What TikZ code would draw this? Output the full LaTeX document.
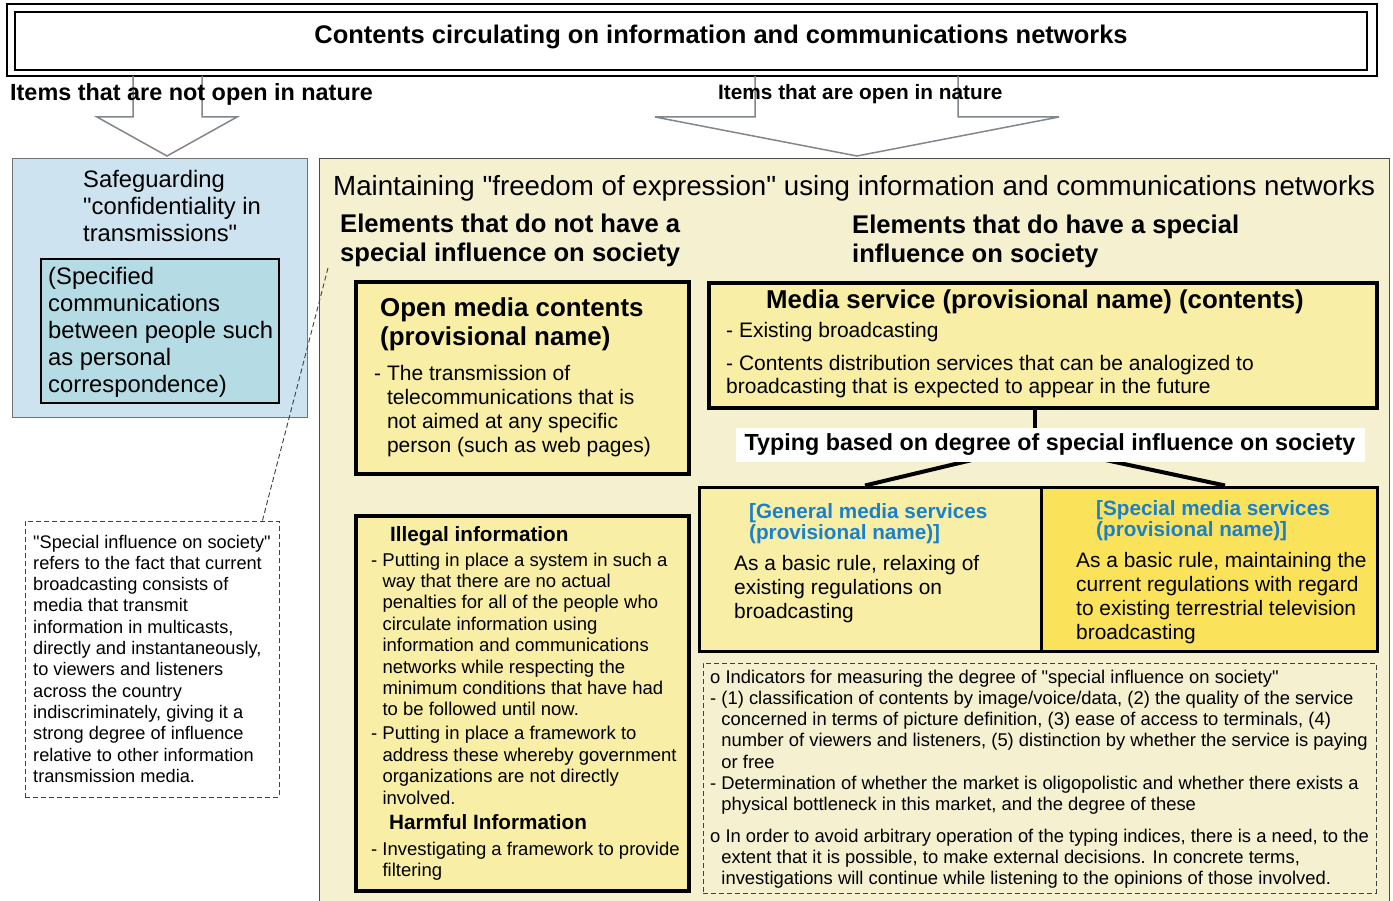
\documentclass[tikz,border=0pt]{standalone}
\usepackage{fontspec}
\setmainfont{Liberation Sans}[Ligatures=TeXOff]
\usetikzlibrary{positioning,fit}
\definecolor{paleblue}{HTML}{CDE3EF}
\definecolor{tealblue}{HTML}{B5DBE4}
\definecolor{beige}{HTML}{F4F0D0}
\definecolor{paleyellow}{HTML}{F8EEA6}
\definecolor{brightyellow}{HTML}{FAE35A}
\definecolor{titleblue}{HTML}{1A80CC}
\definecolor{arrowgray}{HTML}{80878D}
\newcommand{\fsz}[2]{\fontsize{#1}{#2}\selectfont}
\newcommand{\ind}{\hphantom{- }}
% base west of a multi-line node sits on its last line
\tikzset{
  lbl/.style={anchor=base west, inner sep=0pt, align=left},
  area/.style={inner sep=0pt},
  bigbox/.style={area, draw=black, line width=4.5pt, fill=paleyellow},
  hollow/.style={draw=arrowgray, line width=1.5pt, line join=miter},
  dashbox/.style={area, draw=black!75, line width=0.9pt, dash pattern=on 5pt off 3pt},
  branch/.style={line width=4pt},
}

\begin{document}
\begin{tikzpicture}[x=1pt,y=-1pt]
    \useasboundingbox (0,0) rectangle (1393,901);
    \fill[white] (0,0) rectangle (1393,901);

    % Title across the top
    \node(titleout)[area, draw, line width=1.2pt, fit={(7,4) (1377,76)}] {};
    \node(titlein)[area, draw, line width=2.6pt, fit={(15,12) (1367,70)}] {};
    \node(title)[font=\bfseries\fsz{25.5}{30}] at (721,37) {Contents circulating on information and communications networks};

    % Hollow arrows down from the title
    \draw[hollow] (133,76) -- (133,117) -- (97,117) -- (167,156) -- (237,117) -- (202,117) -- (202,76);
    \draw[hollow] (755,76) -- (755,117) -- (655,117) -- (857,156) -- (1059,117) -- (958,117) -- (958,76);
    \node(closed)[lbl, font=\bfseries\fsz{23.4}{28}] at (10,101) {Items that are not open in nature};
    \node(open)[lbl, font=\bfseries\fsz{20.8}{25}] at (718,100) {Items that are open in nature};

    % Confidentiality (left)
    \node(conf)[area, draw=black!55, line width=0.8pt, fill=paleblue, fit={(12,158) (307,417)}] {};
    \node(conftxt)[lbl, font=\fsz{23.8}{27}] at (83,242) {Safeguarding\\"confidentiality in\\transmissions"};
    \node(corresp)[area, draw, line width=2.6pt, fill=tealblue, fit={(41,259) (279,403)}] {};
    \node(corresptxt)[lbl, font=\fsz{23.8}{27}] at (48,392) {(Specified\\communications\\between people such\\as personal\\correspondence)};

    % Note on "special influence"
    \node(note)[dashbox, fit={(25,521) (279,797)}] {};
    \node(notetxt)[lbl, font=\fsz{18.2}{21.3}] at (33,782.3) {"Special influence on society"\\refers to the fact that current\\broadcasting consists of\\media that transmit\\information in multicasts,\\directly and instantaneously,\\to viewers and listeners\\across the country\\indiscriminately, giving it a\\strong degree of influence\\relative to other information\\transmission media.};

    % Freedom of expression (right)
    \node(freedom)[area, draw=black!70, line width=0.9pt, fill=beige, fit={(319,158) (1389,915)}] {};
    \coordinate(notetip) at (328,268);
    \draw[dashbox] ([xshift=-17pt]note.north east) -- (notetip);
    \node(freetxt)[lbl, font=\fsz{27.7}{32}] at (333,196) {Maintaining "freedom of expression" using information and communications networks};
    \node(nospecial)[lbl, font=\bfseries\fsz{25.6}{29}] at (340,262) {Elements that do not have a\\special influence on society};
    \node(special)[lbl, font=\bfseries\fsz{25.6}{29}] at (852,263) {Elements that do have a special\\influence on society};

    % Open media contents
    \node(openmedia)[bigbox, fit={(356,282) (689,474)}] {};
    \node(openhead)[lbl, font=\bfseries\fsz{25.9}{29}] at (380,346) {Open media contents\\(provisional name)};
    \node(openbody)[lbl, font=\fsz{21}{24.3}] at (374,452.9) {- The transmission of\\\ind telecommunications that is\\\ind not aimed at any specific\\\ind person (such as web pages)};

    % Illegal / harmful information
    \node(illegal)[bigbox, fit={(356,516) (689,891)}] {};
    \node(illegalhead)[lbl, font=\bfseries\fsz{20.7}{25}] at (390,541) {Illegal information};
    \node(illegalbody)[lbl, font=\fsz{18.5}{21.4}] at (371,804) {- Putting in place a system in such a\\\ind way that there are no actual\\\ind penalties for all of the people who\\\ind circulate information using\\\ind information and communications\\\ind networks while respecting the\\\ind minimum conditions that have had\\\ind to be followed until now.\\[2.6pt]- Putting in place a framework to\\\ind address these whereby government\\\ind organizations are not directly\\\ind involved.};
    \node(harmfulhead)[lbl, font=\bfseries\fsz{20.7}{25}] at (389,829) {Harmful Information};
    \node(harmfulbody)[lbl, font=\fsz{18.5}{21.4}] at (371,876.4) {- Investigating a framework to provide\\\ind filtering};

    % Media service and its typing
    \node(media)[bigbox, fit={(709,283) (1377,408)}] {};
    \node(mediahead)[font=\bfseries\fsz{25.8}{30}, inner sep=0pt] at (1035,302) {Media service (provisional name) (contents)};
    \node(mediabody)[lbl, font=\fsz{21}{24}] at (726,394) {- Existing broadcasting\\[8pt]- Contents distribution services that can be analogized to\\broadcasting that is expected to appear in the future};

    \node(general)[area, draw, line width=3pt, fill=paleyellow, fit={(699,487) (1041,651)}] {};
    \node(specialsvc)[area, draw, line width=3pt, fill=brightyellow, fit={(1041,487) (1377,651)}] {};
    \coordinate(fork) at (1035,445);
    \draw[branch] (fork |- media.south) -- (fork);
    \draw[branch] (fork) -- ([xshift=-5pt]general.north);
    \draw[branch] (fork) -- ([xshift=16pt]specialsvc.north);
    \node(typing)[fill=white, font=\bfseries\fsz{23.3}{28}, minimum width=629, minimum height=34, inner sep=0pt] at (1050,445) {Typing based on degree of special influence on society};

    \node(generalhead)[lbl, text=titleblue, font=\bfseries\fsz{20.7}{21}] at (749,539) {[General media services\\(provisional name)]};
    \node(generalbody)[lbl, font=\fsz{20.9}{24}] at (734,618) {As a basic rule, relaxing of\\existing regulations on\\broadcasting};
    \node(specialhead)[lbl, text=titleblue, font=\bfseries\fsz{20.7}{21}] at (1096,536) {[Special media services\\(provisional name)]};
    \node(specialbody)[lbl, font=\fsz{20.9}{24}] at (1076,639) {As a basic rule, maintaining the\\current regulations with regard\\to existing terrestrial television\\broadcasting};

    % Indicators
    \node(indicators)[dashbox, fit={(703,663) (1376,893)}] {};
    \node(indtxt)[lbl, font=\fsz{18.4}{21.3}] at (710,884.7) {o Indicators for measuring the degree of "special influence on society"\\- (1) classification of contents by image/voice/data, (2) the quality of the service\\\ind concerned in terms of picture definition, (3) ease of access to terminals, (4)\\\ind number of viewers and listeners, (5) distinction by whether the service is paying\\\ind or free\\- Determination of whether the market is oligopolistic and whether there exists a\\\ind physical bottleneck in this market, and the degree of these\\[10pt]o In order to avoid arbitrary operation of the typing indices, there is a need, to the\\\ind extent that it is possible, to make external decisions. In concrete terms,\\\ind investigations will continue while listening to the opinions of those involved.};
\end{tikzpicture}
\end{document}
